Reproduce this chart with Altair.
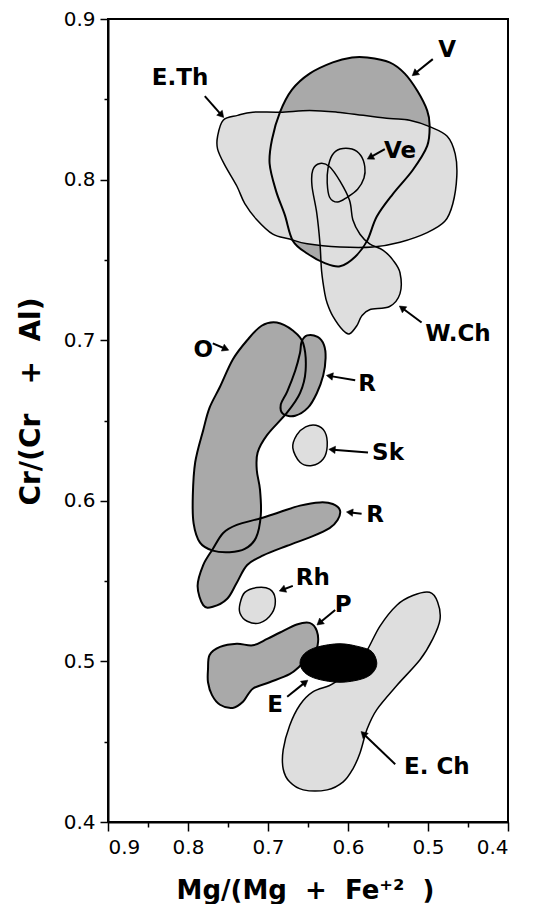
import math
import altair as alt
import pandas as pd

# ---------------- region outlines (x = Mg/(Mg+Fe2+), y = Cr/(Cr+Al)) ----------------
V_x = [0.576, 0.548, 0.529, 0.513, 0.501, 0.498, 0.501, 0.519, 0.544, 0.564, 0.576, 0.591, 0.610,
       0.629, 0.651, 0.669, 0.679, 0.690, 0.698, 0.695, 0.685, 0.670, 0.648, 0.619, 0.595]
V_y = [0.876, 0.873, 0.866, 0.855, 0.843, 0.834, 0.821, 0.806, 0.791, 0.777, 0.762, 0.752, 0.746,
       0.748, 0.754, 0.762, 0.778, 0.793, 0.810, 0.825, 0.842, 0.856, 0.866, 0.873, 0.876]

ETh_x = [0.763, 0.756, 0.738, 0.719, 0.685, 0.648, 0.614, 0.581, 0.548, 0.523, 0.498, 0.476, 0.466, 0.464,
         0.469, 0.479, 0.501, 0.535, 0.569, 0.610, 0.651, 0.673, 0.694, 0.714, 0.729, 0.739, 0.754, 0.763]
ETh_y = [0.827, 0.837, 0.840, 0.842, 0.842, 0.843, 0.842, 0.840, 0.838, 0.837, 0.833, 0.827, 0.816, 0.802,
         0.785, 0.774, 0.767, 0.761, 0.758, 0.758, 0.760, 0.763, 0.766, 0.775, 0.785, 0.796, 0.809, 0.819]

Ve_x = [0.610, 0.595, 0.584, 0.579, 0.580, 0.588, 0.601, 0.613, 0.623, 0.626, 0.625, 0.620]
Ve_y = [0.819, 0.819, 0.815, 0.808, 0.801, 0.794, 0.789, 0.786, 0.789, 0.798, 0.807, 0.815]

WCh_x = [0.635, 0.623, 0.610, 0.598, 0.594, 0.585, 0.573, 0.556, 0.544, 0.535, 0.535, 0.548, 0.573,
         0.583, 0.589, 0.598, 0.606, 0.619, 0.626, 0.629, 0.633, 0.635, 0.639, 0.645, 0.644]
WCh_y = [0.810, 0.808, 0.799, 0.787, 0.775, 0.766, 0.760, 0.756, 0.750, 0.742, 0.729, 0.721, 0.719,
         0.715, 0.709, 0.704, 0.706, 0.715, 0.723, 0.729, 0.743, 0.760, 0.779, 0.796, 0.806]

O_x = [0.689, 0.669, 0.656, 0.653, 0.660, 0.676, 0.701, 0.713, 0.714, 0.710, 0.709, 0.715, 0.729,
       0.748, 0.769, 0.785, 0.793, 0.794, 0.791, 0.781, 0.773, 0.760, 0.744, 0.726, 0.708]
O_y = [0.711, 0.706, 0.698, 0.681, 0.667, 0.655, 0.641, 0.630, 0.619, 0.607, 0.591, 0.577, 0.570,
       0.568, 0.569, 0.574, 0.586, 0.603, 0.624, 0.644, 0.658, 0.671, 0.688, 0.700, 0.709]

R1_x = [0.651, 0.638, 0.630, 0.628, 0.631, 0.639, 0.650, 0.666, 0.681, 0.684, 0.676, 0.666, 0.660, 0.658]
R1_y = [0.703, 0.702, 0.697, 0.689, 0.678, 0.667, 0.658, 0.653, 0.654, 0.660, 0.668, 0.681, 0.692, 0.699]

Sk_x = [0.669, 0.664, 0.653, 0.640, 0.629, 0.626, 0.631, 0.645, 0.660]
Sk_y = [0.633, 0.641, 0.646, 0.647, 0.643, 0.634, 0.626, 0.622, 0.624]

R2_x = [0.781, 0.788, 0.781, 0.769, 0.756, 0.739, 0.710, 0.685, 0.660, 0.635, 0.619, 0.610, 0.613,
        0.623, 0.644, 0.676, 0.706, 0.726, 0.739, 0.751, 0.769]
R2_y = [0.535, 0.547, 0.560, 0.570, 0.580, 0.585, 0.589, 0.593, 0.597, 0.599, 0.598, 0.594, 0.588,
        0.583, 0.578, 0.572, 0.566, 0.560, 0.549, 0.539, 0.534]

Rh_x = [0.735, 0.729, 0.714, 0.698, 0.691, 0.695, 0.710, 0.726, 0.735]
Rh_y = [0.536, 0.543, 0.546, 0.545, 0.539, 0.530, 0.524, 0.525, 0.530]

P_x = [0.775, 0.773, 0.760, 0.739, 0.719, 0.701, 0.685, 0.664, 0.648, 0.639, 0.638, 0.645, 0.658,
       0.673, 0.698, 0.719, 0.731, 0.744, 0.760, 0.770, 0.775]
P_y = [0.495, 0.504, 0.509, 0.511, 0.510, 0.514, 0.518, 0.523, 0.524, 0.519, 0.510, 0.504, 0.498,
       0.492, 0.487, 0.483, 0.475, 0.471, 0.473, 0.479, 0.487]

E_x = [0.660, 0.654, 0.638, 0.610, 0.585, 0.570, 0.564, 0.569, 0.583, 0.610, 0.638, 0.654]
E_y = [0.499, 0.505, 0.509, 0.511, 0.509, 0.506, 0.499, 0.493, 0.489, 0.487, 0.489, 0.493]

ECh_x = [0.519, 0.498, 0.488, 0.485, 0.494, 0.510, 0.539, 0.564, 0.576, 0.585, 0.594, 0.606, 0.626,
         0.656, 0.673, 0.681, 0.681, 0.673, 0.660, 0.644, 0.623, 0.610, 0.591, 0.576, 0.560, 0.539]
ECh_y = [0.541, 0.543, 0.537, 0.526, 0.514, 0.501, 0.485, 0.470, 0.458, 0.443, 0.433, 0.425, 0.420,
         0.420, 0.425, 0.433, 0.445, 0.460, 0.473, 0.481, 0.485, 0.489, 0.496, 0.507, 0.522, 0.535]

region_names = ["V", "E.Th", "Ve", "W.Ch", "O", "R1", "Sk", "R2", "Rh", "P", "E", "E.Ch"]
region_shade = ["dense", "light", "light", "light", "dense", "dense", "light", "dense", "light",
                "dense", "black", "light"]
region_xs = [V_x, ETh_x, Ve_x, WCh_x, O_x, R1_x, Sk_x, R2_x, Rh_x, P_x, E_x, ECh_x]
region_ys = [V_y, ETh_y, Ve_y, WCh_y, O_y, R1_y, Sk_y, R2_y, Rh_y, P_y, E_y, ECh_y]

# ---------------- labels and arrows ----------------
label_text = ["V", "E.Th", "Ve", "W.Ch", "O", "R", "Sk", "R", "Rh", "P", "E", "E. Ch"]
label_x = [0.476, 0.810, 0.535, 0.4625, 0.781, 0.576, 0.550, 0.566, 0.644, 0.606, 0.691, 0.489]
label_y = [0.881, 0.863, 0.818, 0.704, 0.694, 0.673, 0.630, 0.591, 0.552, 0.535, 0.473, 0.434]

arr_x1 = [0.494, 0.779, 0.554, 0.508, 0.769, 0.591, 0.575, 0.583, 0.669, 0.616, 0.676, 0.541]
arr_y1 = [0.875, 0.852, 0.819, 0.711, 0.698, 0.675, 0.630, 0.592, 0.547, 0.532, 0.478, 0.436]
arr_x2 = [0.519, 0.756, 0.575, 0.535, 0.750, 0.626, 0.623, 0.601, 0.685, 0.638, 0.651, 0.583]
arr_y2 = [0.865, 0.839, 0.813, 0.721, 0.694, 0.678, 0.632, 0.593, 0.544, 0.523, 0.488, 0.456]

tick_values = [0.4, 0.45, 0.5, 0.55, 0.6, 0.65, 0.7, 0.75, 0.8, 0.85, 0.9]

W, H = 400, 803
XMIN, XMAX, YMIN, YMAX = 0.4, 0.9, 0.4, 0.9
DENSE = "#a9a9a9"
LIGHT = "#dedede"

rows = []
for name, shade, xs, ys in zip(region_names, region_shade, region_xs, region_ys):
    for i, (x, y) in enumerate(zip(xs, ys)):
        rows.append({"region": name, "shade": shade, "i": i, "x": x, "y": y})
df = pd.DataFrame(rows)

# arrows: head orientation from the endpoints (pixels per data unit)
pxx = W / (XMAX - XMIN)
pxy = H / (YMAX - YMIN)
arows = []
for x1, y1, x2, y2 in zip(arr_x1, arr_y1, arr_x2, arr_y2):
    dxp = -(x2 - x1) * pxx
    dyp = -(y2 - y1) * pxy
    L = math.hypot(dxp, dyp)
    ux, uy = dxp / L, dyp / L
    ang = math.degrees(math.atan2(dxp, -dyp)) % 360
    back = 3.5
    xc = x2 + back * ux / pxx
    yc = y2 + back * uy / pxy
    arows.append({"x": x1, "y": y1, "x2": xc, "y2": yc, "hx": xc, "hy": yc, "ang": ang})
adf = pd.DataFrame(arows)
ldf = pd.DataFrame({"t": label_text, "x": label_x, "y": label_y})

label_expr = "abs(datum.value*10 - round(datum.value*10)) < 0.01 ? format(datum.value, '.1f') : ''"
major_test = "abs(datum.value*10 - round(datum.value*10)) < 0.01"

xscale = alt.Scale(domain=[XMIN, XMAX], reverse=True, nice=False, zero=False)
yscale = alt.Scale(domain=[YMIN, YMAX], nice=False, zero=False)

x_axis = alt.Axis(values=tick_values, labelExpr=label_expr,
                  tickSize={"condition": {"test": major_test, "value": 9}, "value": 5},
                  labelPadding=6, labelFontSize=20,
                  title="Mg/(Mg\u00a0\u00a0+\u00a0\u00a0Fe\u207a\u00b2\u00a0\u00a0)", titleFontSize=26,
                  titleX=197, titleY=68, titleAlign="center", titleBaseline="middle")
y_axis = alt.Axis(values=tick_values, labelExpr=label_expr,
                  tickSize={"condition": {"test": major_test, "value": 8}, "value": 4},
                  labelPadding=5, labelFontSize=20,
                  title="Cr/(Cr\u00a0\u00a0\u00a0+\u00a0\u00a0Al)", titleFontSize=28,
                  titleAngle=270, titleX=-77, titleY=382, titleAlign="center", titleBaseline="middle")

X = alt.X("x:Q", scale=xscale, axis=x_axis)
Y = alt.Y("y:Q", scale=yscale, axis=y_axis)

base = alt.Chart(df)

dense_fill = base.transform_filter(alt.datum.shade == "dense").mark_line(
    interpolate="cardinal-closed", fill=DENSE, strokeOpacity=0
).encode(x=X, y=Y, detail="region:N", order="i:Q")

light_fill = base.transform_filter(alt.datum.shade == "light").mark_line(
    interpolate="cardinal-closed", fill=LIGHT, strokeOpacity=0
).encode(x=X, y=Y, detail="region:N", order="i:Q")

dense_line = base.transform_filter(alt.datum.shade == "dense").mark_line(
    interpolate="cardinal-closed", color="black", strokeWidth=2.0
).encode(x=X, y=Y, detail="region:N", order="i:Q")

light_line = base.transform_filter(alt.datum.shade == "light").mark_line(
    interpolate="cardinal-closed", color="black", strokeWidth=1.5
).encode(x=X, y=Y, detail="region:N", order="i:Q")

black_fill = base.transform_filter(alt.datum.shade == "black").mark_line(
    interpolate="cardinal-closed", fill="black", color="black", strokeWidth=1
).encode(x=X, y=Y, detail="region:N", order="i:Q")

arrows = alt.Chart(adf).mark_rule(color="black", strokeWidth=2).encode(
    x=X, y=Y, x2="x2:Q", y2="y2:Q")

heads = alt.Chart(adf).mark_point(shape="triangle", filled=True, fill="black", stroke="black",
                                  strokeWidth=0.5, size=55, opacity=1).encode(
    x=alt.X("hx:Q", scale=xscale, axis=x_axis), y=alt.Y("hy:Q", scale=yscale, axis=y_axis),
    angle=alt.Angle("ang:Q", scale=None))

labels = alt.Chart(ldf).mark_text(font="DejaVu Sans", fontWeight="bold", fontSize=23,
                                  color="black", align="center", baseline="middle").encode(
    x=X, y=Y, text="t:N")

chart = alt.layer(dense_fill, light_fill, dense_line, light_line, black_fill, arrows, heads, labels).properties(
    width=W, height=H,
    autosize=alt.AutoSizeParams(type="none"),
    padding={"left": 100, "top": 11, "right": 18, "bottom": 82},
).configure_view(stroke="black", strokeWidth=2).configure_axis(
    grid=False, domainColor="black", domainWidth=2, tickColor="black", tickWidth=1.5,
    labelFont="DejaVu Sans", labelColor="black",
    titleFont="DejaVu Sans", titleFontWeight="bold", titleColor="black",
)

chart.save("out.html", embed_options={"renderer": "svg", "actions": False})
